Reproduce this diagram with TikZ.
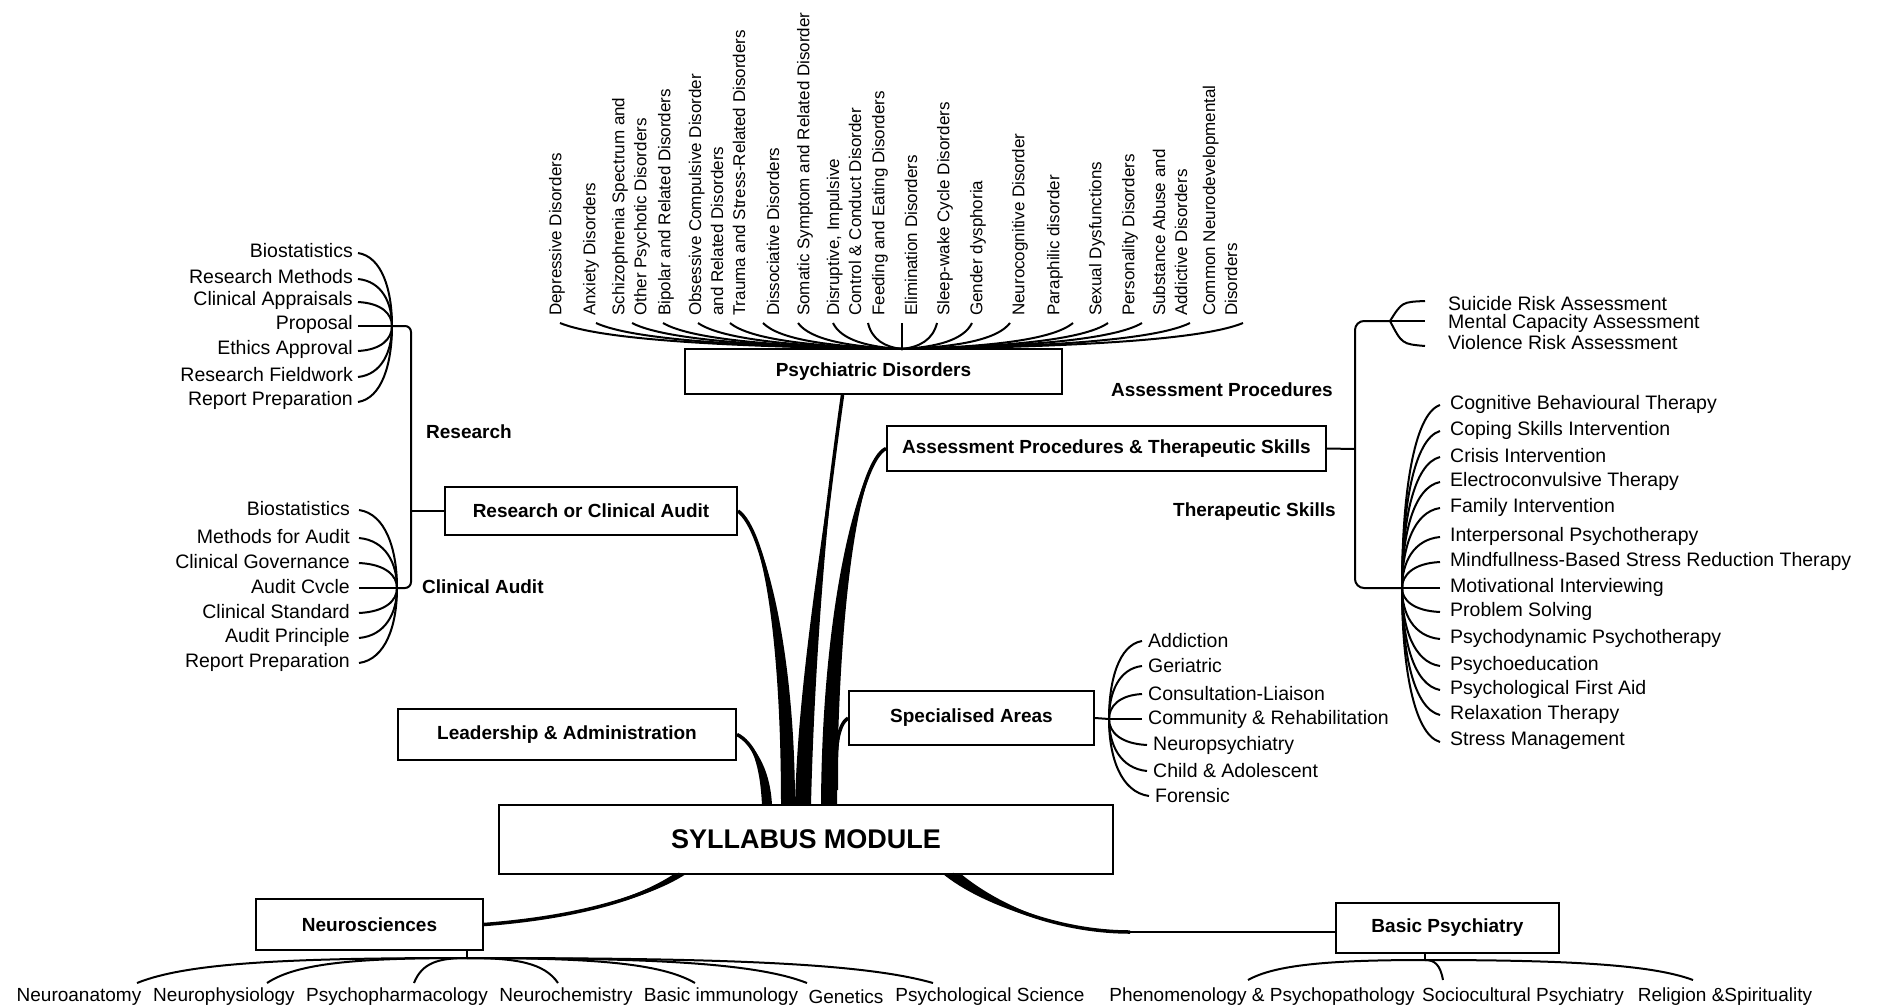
\documentclass[tikz,border=0pt]{standalone}
\usepackage{fontspec}
\setmainfont{Liberation Sans}
\usetikzlibrary{calc}

\tikzset{
  box/.style={draw, line width=2pt, inner sep=0pt, font=\bfseries\fontsize{19}{22}\selectfont},
  item/.style={inner sep=0pt, font=\fontsize{19.5}{22}\selectfont},
  low/.style={inner sep=0pt, font=\fontsize{19}{22}\selectfont},
  disorder/.style={rotate=90, anchor=west, align=left, inner sep=0pt, font=\fontsize{17}{22}\selectfont},
  heading/.style={inner sep=0pt, font=\bfseries\fontsize{19}{22}\selectfont},
  twig/.style={line width=2pt},
}

% fan curve from a hub to the tip beside an item
\newcommand{\fantwig}[2]{%
  \draw[twig] let \p1=(#1), \p2=(#2) in
    (#2) .. controls ({\x2+0.7*(\x1-\x2)},{\y2+0.05*(\y1-\y2)}) and (\x1,{\y2+0.5*(\y1-\y2)}) .. (#1);}

% tapered branch: thin end, two controls, thick end, half width
\newcommand{\limb}[5]{%
  \fill (#1) .. controls (#2) and ($(#3)+(-#5,0)$) .. ($(#4)+(-#5,0)$)
    -- ($(#4)+(#5,0)$) .. controls ($(#3)+(#5,0)$) and (#2) .. (#1) -- cycle;
  \draw[line width=3.5pt] (#1) .. controls (#2) and (#3) .. (#4);}

\begin{document}
\begin{tikzpicture}[x=1pt, y=-1pt]
  \useasboundingbox (0,0) rectangle (1885,1007);

  % boxes
  \node[box, minimum width=614, minimum height=69, font=\bfseries\fontsize{27}{30}\selectfont] (syl) at (806,839.5) {SYLLABUS MODULE};
  \node[box, minimum width=377, minimum height=45] (pd) at (873.5,371.5) {Psychiatric Disorders};
  \node[box, minimum width=439, minimum height=45] (ats) at (1106.5,448.5) {Assessment Procedures \& Therapeutic Skills};
  \node[box, minimum width=292, minimum height=48] (rca) at (591,511) {Research or Clinical Audit};
  \node[box, minimum width=245, minimum height=54] (spa) at (971.5,718) {Specialised Areas};
  \node[box, minimum width=338, minimum height=51] (lead) at (567,734.5) {Leadership \& Administration};
  \node[box, minimum width=227, minimum height=51] (neu) at (369.5,924.5) {Neurosciences};
  \node[box, minimum width=223, minimum height=50] (bps) at (1447.5,928) {Basic Psychiatry};

  % trunk
  \coordinate (pdfoot) at ($(pd.south)+(-31,0)$);
  \coordinate (pdroot) at (803,805);
  \coordinate (rcaroot) at (788,805);
  \coordinate (atsroot) at (829,805);
  \coordinate (sparoot) at (835,790);
  \coordinate (leadroot) at (767,805);
  \coordinate (neuroot) at (680,874);
  \coordinate (bpsroot) at (952,874);
  \coordinate (bpsknee) at (1130,932);
  \limb{pdfoot}{825,520}{806,680}{pdroot}{8}
  \limb{rca.east}{765,530}{788,650}{rcaroot}{7}
  \limb{ats.west}{860,460}{830,600}{atsroot}{8}
  \limb{spa.west}{838,725}{835,745}{sparoot}{3}
  \limb{lead.east}{752,742}{765,765}{leadroot}{5}
  \limb{neu.east}{570,918}{640,900}{neuroot}{6}
  \draw[line width=2.5pt] (bps.west |- bpsknee) -- (bpsknee);
  \limb{bpsknee}{1060,932}{990,905}{bpsroot}{9}

  % psychiatric disorders
  \coordinate (pdhub) at (902,349);
  \foreach \i/\lbl/\cx/\tp in {
    1/{Depressive Disorders}/557/560,
    2/{Anxiety Disorders}/591/596,
    3/{Schizophrenia Spectrum and\\Other Psychotic Disorders}/631/632,
    4/{Bipolar and Related Disorders}/666/663,
    5/{Obsessive Compulsive Disorder\\and Related Disorders}/706/698,
    6/{Trauma and Stress-Related Disorders}/739/730,
    7/{Dissociative Disorders}/773/763,
    8/{Somatic Symptom and Related Disorder}/805/798,
    9/{Disruptive, Impulsive\\Control \& Conduct Disorder}/844/833,
    10/{Feeding and Eating Disorders}/880/868,
    11/{Elimination Disorders}/911/902,
    12/{Sleep-wake Cycle Disorders}/945/937,
    13/{Gender dysphoria}/978/972,
    14/{Neurocognitive Disorder}/1020/1010,
    15/{Paraphilic disorder}/1055/1073,
    16/{Sexual Dysfunctions}/1097/1108,
    17/{Personality Disorders}/1130/1142,
    18/{Substance Abuse and\\Addictive Disorders}/1170/1190,
    19/{Common Neurodevelopmental\\Disorders}/1220/1243}{
    \node[disorder] (dis\i) at (\cx,316) {\lbl};
    \coordinate (dtip\i) at (\tp,323);
    \draw[twig] (pdhub) .. controls ({902-0.5*(902-\tp)},347) and ({\tp+0.12*(902-\tp)},340) .. (dtip\i);
  }

  % research and clinical audit
  \coordinate (reshub) at (392,326);
  \coordinate (audhub) at (397,588);
  \coordinate (rbtop) at (411,326);
  \coordinate (rbbot) at (411,588);
  \coordinate (rbmid) at (411,511);
  \foreach \i/\lbl/\yy in {1/Biostatistics/251, 2/Research Methods/277, 3/Clinical Appraisals/300,
    4/Proposal/324, 5/Ethics Approval/349, 6/Research Fieldwork/375, 7/Report Preparation/400}{
    \node[item, anchor=east] (res\i) at (353,\yy) {\lbl};
    \fantwig{reshub}{$(res\i.east)+(5,2)$}
  }
  \foreach \i/\lbl/\yy in {1/Biostatistics/509, 2/Methods for Audit/537, 3/Clinical Governance/562,
    4/Audit Cvcle/587, 5/Clinical Standard/612, 6/Audit Principle/637, 7/Report Preparation/662}{
    \node[item, anchor=east] (aud\i) at (350,\yy) {\lbl};
    \fantwig{audhub}{$(aud\i.east)+(9,1)$}
  }
  \draw[twig, rounded corners=6pt] (reshub) -- (rbtop) -- (rbbot) -- (audhub);
  \draw[twig] (rca.west) -- (rbmid);
  \node[heading, anchor=west] (reslbl) at (426,432) {Research};
  \node[heading, anchor=west] (audlbl) at (422,587) {Clinical Audit};

  % assessment procedures and therapeutic skills
  \coordinate (abx) at (1355,449);
  \coordinate (abtop) at (1355,321);
  \coordinate (abbot) at (1355,588);
  \coordinate (ahub) at (1390,321);
  \coordinate (thub) at (1402,588);
  \draw[twig] (ats.east) -- (abx);
  \draw[twig, rounded corners=9pt] (ahub) -- (abtop) -- (abbot) -- (thub);
  \node[heading, anchor=east] (aplbl) at (1333,390) {Assessment Procedures};
  \node[heading, anchor=east] (tslbl) at (1336,512) {Therapeutic Skills};
  \foreach \i/\lbl/\yy in {1/Suicide Risk Assessment/304, 2/Mental Capacity Assessment/323, 3/Violence Risk Assessment/343}{
    \node[item, anchor=west] (asm\i) at (1448,\yy) {\lbl};
  }
  \coordinate (atip1) at (1425,301);
  \coordinate (atip2) at (1425,321);
  \coordinate (atip3) at (1425,346);
  \draw[twig] (ahub) .. controls (1402,302) .. (atip1);
  \draw[twig] (ahub) -- (atip2);
  \draw[twig] (ahub) .. controls (1402,344) .. (atip3);
  \foreach \i/\lbl/\yy in {1/Cognitive Behavioural Therapy/404, 2/Coping Skills Intervention/430,
    3/Crisis Intervention/456, 4/Electroconvulsive Therapy/481, 5/Family Intervention/507,
    6/Interpersonal Psychotherapy/536, 7/Mindfullness-Based Stress Reduction Therapy/561,
    8/Motivational Interviewing/587, 9/Problem Solving/611, 10/Psychodynamic Psychotherapy/638,
    11/Psychoeducation/665, 12/Psychological First Aid/689, 13/Relaxation Therapy/714,
    14/Stress Management/741}{
    \node[item, anchor=west] (ts\i) at (1450,\yy) {\lbl};
    \fantwig{thub}{$(ts\i.west)+(-10,1)$}
  }

  % specialised areas
  \coordinate (shub) at (1109,719);
  \draw[twig] (spa.east) -- (shub);
  \foreach \i/\lbl/\xx/\yy in {1/Addiction/1148/641, 2/Geriatric/1148/666, 3/Consultation-Liaison/1148/694,
    4/Community \& Rehabilitation/1148/719, 5/Neuropsychiatry/1153/745, 6/Child \& Adolescent/1153/771,
    7/Forensic/1155/796}{
    \node[item, anchor=west] (sp\i) at (\xx,\yy) {\lbl};
    \fantwig{shub}{$(sp\i.west)+(-6,0)$}
  }

  % neurosciences
  \coordinate (nhub) at (467,958);
  \draw[twig] (neu.south -| nhub) -- (nhub);
  \foreach \i/\lbl/\cx/\tp in {1/Neuroanatomy/79/137, 2/Neurophysiology/224/267, 3/Psychopharmacology/397/414,
    4/Neurochemistry/566/558, 5/Basic immunology/721/695, 6/Genetics/846/807, 7/Psychological Science/990/933}{
    \node[low] (ns\i) at (\cx,997) {\lbl};
    \coordinate (ntip\i) at (\tp,983);
    \draw[twig] (nhub) .. controls ({467+0.55*(\tp-467)},958) and ({\tp-0.15*(\tp-467)},963) .. (ntip\i);
  }

  % basic psychiatry
  \coordinate (bhub) at (1425,960);
  \draw[twig] (bps.south -| bhub) -- (bhub);
  \foreach \i/\lbl/\cx/\tp in {1/Phenomenology \& Psychopathology/1262/1248, 2/Sociocultural Psychiatry/1523/1443,
    3/Religion \&Spirituality/1725/1693}{
    \node[low] (bp\i) at (\cx,997) {\lbl};
    \coordinate (btip\i) at (\tp,980);
    \draw[twig] (bhub) .. controls ({1425+0.55*(\tp-1425)},960) and ({\tp-0.15*(\tp-1425)},965) .. (btip\i);
  }
\end{tikzpicture}
\end{document}
